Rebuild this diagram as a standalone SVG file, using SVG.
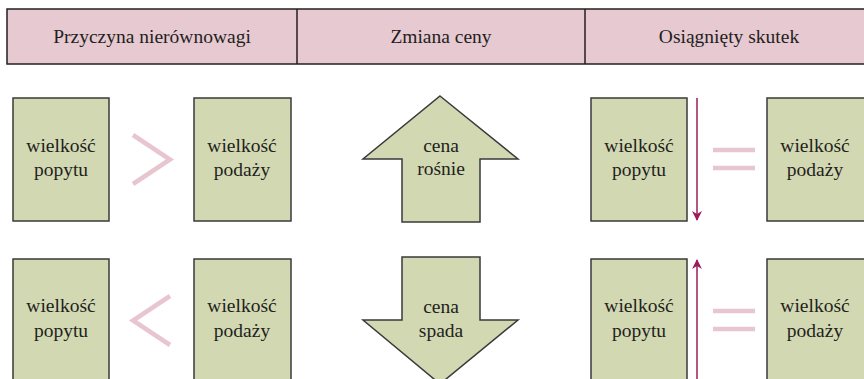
<svg xmlns="http://www.w3.org/2000/svg" width="864" height="379" viewBox="0 0 864 379">
<style>
.hdr{fill:#e6c9d1;stroke:#231f20;stroke-width:1.5}
.node{fill:#d2d8b2;stroke:#3a3a3a;stroke-width:1.5}
.t{font-family:'Liberation Serif',serif;font-size:19.5px;fill:#231f20;text-anchor:middle}
.sign{fill:none;stroke:#e8c6d0;stroke-width:4.5}
.conn{stroke:#9c1c5b;stroke-width:1.5;fill:none}
</style>
<defs>
<marker id="ah" viewBox="0 0 10 10" refX="9" refY="5" markerWidth="10" markerHeight="10" markerUnits="userSpaceOnUse" orient="auto">
<path d="M0,0 L10,5 L0,10 L3,5 Z" fill="#9c1c5b"/>
</marker>
</defs>
<rect width="864" height="379" fill="#ffffff"/>
<g id="header">
<rect class="hdr" x="7" y="9" width="870" height="55"/>
<line x1="297" y1="9" x2="297" y2="64" stroke="#231f20" stroke-width="1.5"/>
<line x1="585" y1="9" x2="585" y2="64" stroke="#231f20" stroke-width="1.5"/>
<text class="t" x="152" y="43" font-family="Liberation Serif, serif">Przyczyna nierównowagi</text>
<text class="t" x="441" y="43" font-family="Liberation Serif, serif">Zmiana ceny</text>
<text class="t" x="729" y="43" font-family="Liberation Serif, serif">Osiągnięty skutek</text>
</g>
<g id="n1"><rect class="node" x="13" y="98" width="96" height="123"/><text class="t" x="61" y="152">wielkość</text><text class="t" x="61" y="176">popytu</text></g>
<g id="n2"><rect class="node" x="194" y="98" width="97" height="123"/><text class="t" x="242" y="152">wielkość</text><text class="t" x="242" y="176">podaży</text></g>
<g id="n3"><rect class="node" x="13" y="259" width="96" height="125"/><text class="t" x="61" y="312">wielkość</text><text class="t" x="61" y="337">popytu</text></g>
<g id="n4"><rect class="node" x="194" y="259" width="97" height="125"/><text class="t" x="242" y="312">wielkość</text><text class="t" x="242" y="337">podaży</text></g>
<g id="up"><polygon class="node" points="440,96 518,159 480,159 480,222 402,222 402,159 363,159"/><text class="t" x="441" y="152">cena</text><text class="t" x="441" y="175">rośnie</text></g>
<g id="down"><polygon class="node" points="402,257 480,257 480,320 518,320 440,384 363,320 402,320"/><text class="t" x="441" y="313">cena</text><text class="t" x="441" y="337">spada</text></g>
<g id="n5"><rect class="node" x="591" y="98" width="96" height="123"/><text class="t" x="639" y="152">wielkość</text><text class="t" x="639" y="176">popytu</text></g>
<g id="n6"><rect class="node" x="767" y="98" width="100" height="123"/><text class="t" x="815" y="152">wielkość</text><text class="t" x="815" y="176">podaży</text></g>
<g id="n7"><rect class="node" x="591" y="259" width="96" height="125"/><text class="t" x="639" y="312">wielkość</text><text class="t" x="639" y="337">popytu</text></g>
<g id="n8"><rect class="node" x="767" y="259" width="100" height="125"/><text class="t" x="815" y="312">wielkość</text><text class="t" x="815" y="337">podaży</text></g>
<g id="signs">
<polyline class="sign" points="133,135 170,159.5 133,184"/>
<polyline class="sign" points="170,296 133,320.5 170,345"/>
<line class="sign" x1="713" y1="150" x2="755" y2="150"/>
<line class="sign" x1="713" y1="168" x2="755" y2="168"/>
<line class="sign" x1="713" y1="311" x2="755" y2="311"/>
<line class="sign" x1="713" y1="329" x2="755" y2="329"/>
</g>
<g id="connectors">
<line class="conn" x1="697" y1="98" x2="697" y2="220" marker-end="url(#ah)"/>
<line class="conn" x1="697" y1="385" x2="697" y2="260" marker-end="url(#ah)"/>
</g>
</svg>
